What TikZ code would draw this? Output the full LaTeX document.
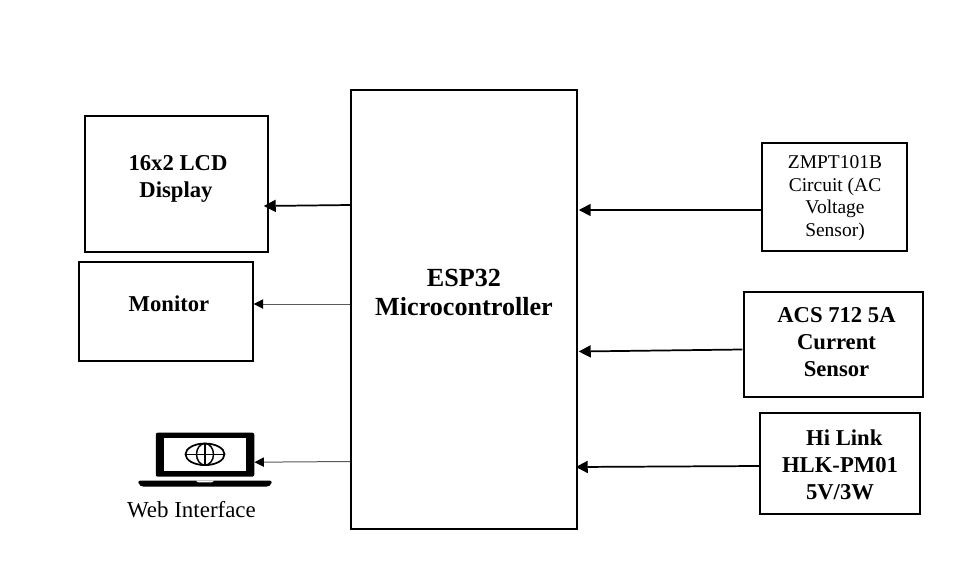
\documentclass[tikz,border=0pt]{standalone}
\usepackage{fontspec}
\setmainfont{Liberation Serif}
\usetikzlibrary{arrows.meta}
\tikzset{
  x=0.75pt,y=-0.75pt,
  box/.style={draw=black,line width=1.1pt,minimum width=#1,inner sep=0pt,fill=white},
  head/.style={font=\bfseries\fontsize{17}{20.25}\selectfont,align=center,inner sep=0pt},
  big/.style={font=\bfseries\fontsize{19.6}{21.75}\selectfont,align=center,inner sep=0pt},
  plain/.style={font=\fontsize{14.6}{17.1}\selectfont,align=center,inner sep=0pt},
  web/.style={font=\fontsize{17.2}{20}\selectfont,align=center,inner sep=0pt},
  heavy/.style={draw=black,line width=1.3pt,-{Triangle[length=9pt,width=9pt]}},
  light/.style={draw=black!65,line width=0.75pt,{-{Triangle[length=7pt,width=7pt,color=black]}}},
}
\newcommand{\boxat}[5]{\node[box=#4*0.75pt,minimum height=#5*0.75pt] (#1) at (#2,#3) {};}
\begin{document}
\begin{tikzpicture}
\useasboundingbox[fill=white] (0,0) rectangle (953,582);
% blocks
\boxat{esp}{464}{309.5}{226}{439}
\boxat{lcd}{176.5}{184}{183}{136}
\boxat{mon}{166}{311.5}{174}{99}
\boxat{zmpt}{834.5}{197}{145}{108}
\boxat{acs}{833.5}{344.5}{179}{105}
\node[box=160*0.75pt,minimum height=101*0.75pt,line width=1.5pt] (hlk) at (840,463.5) {};
% texts
\node[head] (lcdt) at (178,179) {16x2 LCD\\Display\hspace*{3pt}};
\node[head] (mont) at (169,303.5) {Monitor};
\node[big] (espt) at (464,292.5) {ESP32\\Microcontroller};
\node[plain] (zmptt) at (835,198) {ZMPT101B\\Circuit (AC\\Voltage\\Sensor)};
\node[head] (acst) at (836.5,342.5) {ACS 712 5A\\Current\hspace*{3pt}\\Sensor};
\node[head] (hlkt) at (840,464.5) {\hspace*{6.5pt}Hi Link\\HLK-PM01\\5V/3W};
% laptop
\node[fill=black,rounded corners=1.5pt,minimum width=98.5*0.75pt,minimum height=44*0.75pt,inner sep=0pt] (lap) at (205,454.7) {};
\path[fill=white] (164,438) rectangle (246,471);
\path[fill=black,rounded corners=1.5pt] (138,480.7) -- (272,480.7) -- (271,485) -- (268,486.7) -- (142,486.7) -- (139,485) -- cycle;
\path[fill=white] (196,480.7) -- (214,480.7) -- (212,482.4) -- (198,482.4) -- cycle;
\draw[line width=1.3pt] (205,454.3) ellipse [x radius=19.5,y radius=10.8];
\draw[line width=1.1pt] (205,454.3) ellipse [x radius=8.5,y radius=10.8];
\draw[line width=1.1pt] (205,443.5) -- (205,465.1) (185.5,454.3) -- (224.5,454.3);
\node[web] (webt) at (191.5,509.5) {Web Interface};
% connectors
\draw[heavy] ([shift={(0,-104.5)}]esp.west) -- ([shift={(-5,22)}]lcd.east);
\draw[light] ([shift={(0,-5.5)}]esp.west) -- ([shift={(0,-7.5)}]mon.east);
\draw[light] ([shift={(0,152)}]esp.west) -- ([shift={(0,7.5)}]lap.east);
\draw[heavy] ([shift={(0,13)}]zmpt.west) -- ([shift={(1,-99.5)}]esp.east);
\draw[heavy] ([shift={(-1,5)}]acs.west) -- ([shift={(1,42)}]esp.east);
\draw[heavy] ([shift={(0,2.5)}]hlk.west) -- ([shift={(-2,157.5)}]esp.east);
\end{tikzpicture}
\end{document}
